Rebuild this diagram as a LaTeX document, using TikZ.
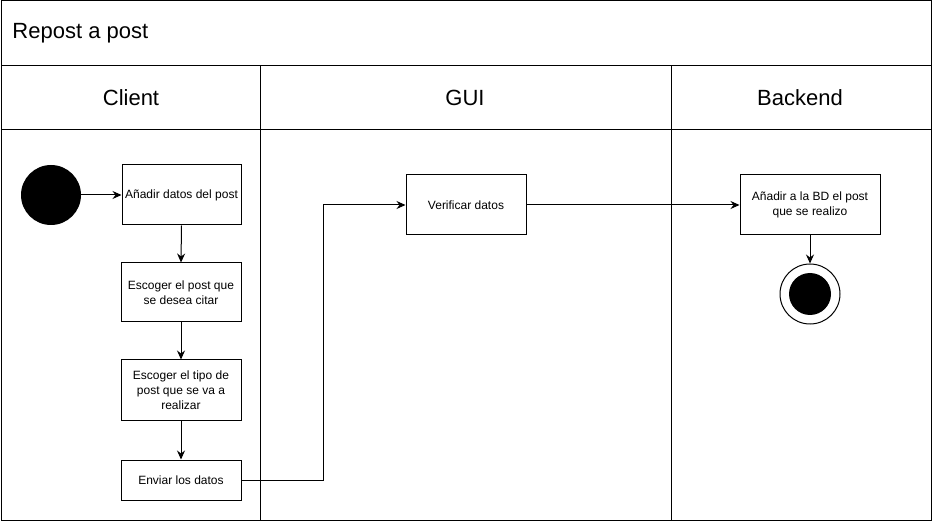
\documentclass[tikz,border=0pt]{standalone}
\usepackage{fontspec}
\setmainfont{Liberation Sans}
\usetikzlibrary{arrows.meta}
\begin{document}
\begin{tikzpicture}[x=1pt,y=-1pt,
  line width=1pt,
  actbox/.style={draw, fill=white, align=center, font=\fontsize{12}{15}\selectfont, inner sep=0pt},
  flow/.style={draw, -{Stealth[length=9pt,width=8pt,inset=3pt]}},
  lanelbl/.style={font=\fontsize{22}{26}\selectfont},
]
\useasboundingbox (0,0) rectangle (932,521);
\fill[white] (0,0) rectangle (932,521);
% frame
\draw (1,1) rectangle (931,520);
\draw (1,66) -- (931,66);
\draw (1,130) -- (931,130);
\draw (260,66) -- (260,520);
\draw[line width=1.5pt] (671.5,66) -- (671.5,520);
% titles
\node[lanelbl, anchor=west, inner sep=0pt] (title) at (12,33) {Repost a post};
\node[lanelbl] (lclient) at (131,98) {Client};
\node[lanelbl] (lgui) at (465,98) {GUI};
\node[lanelbl] (lback) at (800,98) {Backend};
% nodes
\fill (51,195) circle (30);
\coordinate (start) at (81,195);
\node[actbox, minimum width=119pt, minimum height=60pt] (b1) at (181.5,195) {Añadir datos del post};
\node[actbox, minimum width=120pt, minimum height=59pt] (b2) at (181,292.5) {Escoger el post que\\se desea citar};
\node[actbox, minimum width=120pt, minimum height=60pt] (b3) at (181,390) {Escoger el tipo de\\post que se va a\\realizar};
\node[actbox, minimum width=120pt, minimum height=40pt] (b4) at (181,480) {Enviar los datos};
\node[actbox, minimum width=120pt, minimum height=60pt] (v) at (466,205) {Verificar datos};
\node[actbox, minimum width=140pt, minimum height=60pt] (bd) at (810,205) {Añadir a la BD el post\\que se realizo};
\node[draw, circle, minimum size=60pt, inner sep=0pt] (end) at (810,294) {};
\fill (end.center) circle (21);
% connectors
\draw[flow] (start) -- (b1.west);
\draw[flow] (b1.south) -- (b2.north);
\draw[flow] (b2.south) -- (b3.north);
\draw[flow] (b3.south) -- (b4.north);
\draw[flow] (b4.east) -- (323,480) -- (323,205) -- (v.west);
\draw[flow] (v.east) -- (bd.west);
\draw[flow] (bd.south) -- (end.north);
\end{tikzpicture}
\end{document}
